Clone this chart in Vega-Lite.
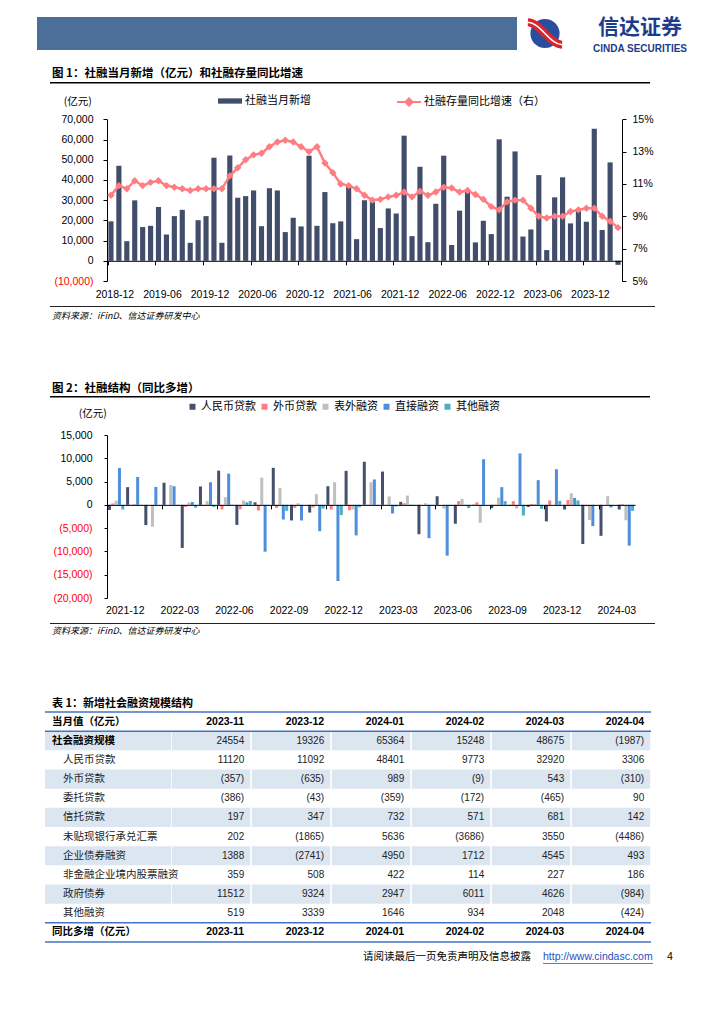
{
"$schema": "https://vega.github.io/schema/vega-lite/v6.json",
"padding": 0,
"background": "#FFFFFF",
"columns": 1,
"align": "each",
"bounds": "full",
"spacing": 0,
"resolve": {"scale": {"color": "independent"}, "legend": {"color": "independent"}},
"datasets": {
"c1": [
{"m":"2018-12","v":19500,"g":10.3},{"m":"2019-01","v":47000,"g":10.9},{"m":"2019-02","v":9700,"g":10.7},{"m":"2019-03","v":29900,"g":11.2},{"m":"2019-04","v":16700,"g":10.9},{"m":"2019-05","v":17300,"g":11.1},{"m":"2019-06","v":26600,"g":11.2},{"m":"2019-07","v":13000,"g":10.9},{"m":"2019-08","v":22100,"g":10.8},{"m":"2019-09","v":25200,"g":10.7},{"m":"2019-10","v":8900,"g":10.6},{"m":"2019-11","v":20100,"g":10.7},{"m":"2019-12","v":22100,"g":10.7},
{"m":"2020-01","v":51000,"g":10.7},{"m":"2020-02","v":8900,"g":10.7},{"m":"2020-03","v":52100,"g":11.5},{"m":"2020-04","v":31200,"g":12.0},{"m":"2020-05","v":32000,"g":12.5},{"m":"2020-06","v":34800,"g":12.8},{"m":"2020-07","v":17100,"g":12.9},{"m":"2020-08","v":35900,"g":13.3},{"m":"2020-09","v":34800,"g":13.6},{"m":"2020-10","v":14200,"g":13.7},{"m":"2020-11","v":21300,"g":13.6},{"m":"2020-12","v":17000,"g":13.3},
{"m":"2021-01","v":52000,"g":13.0},{"m":"2021-02","v":17300,"g":13.3},{"m":"2021-03","v":34000,"g":12.3},{"m":"2021-04","v":18600,"g":11.7},{"m":"2021-05","v":19500,"g":11.0},{"m":"2021-06","v":37000,"g":10.9},{"m":"2021-07","v":10700,"g":10.7},{"m":"2021-08","v":29900,"g":10.3},{"m":"2021-09","v":29000,"g":10.0},{"m":"2021-10","v":16200,"g":10.05},{"m":"2021-11","v":25900,"g":10.2},{"m":"2021-12","v":23400,"g":10.3},
{"m":"2022-01","v":61900,"g":10.5},{"m":"2022-02","v":12200,"g":10.2},{"m":"2022-03","v":46500,"g":10.55},{"m":"2022-04","v":9200,"g":10.3},{"m":"2022-05","v":28200,"g":10.5},{"m":"2022-06","v":52000,"g":10.8},{"m":"2022-07","v":7800,"g":10.75},{"m":"2022-08","v":24800,"g":10.5},{"m":"2022-09","v":34900,"g":10.6},{"m":"2022-10","v":9100,"g":10.35},{"m":"2022-11","v":19800,"g":10.05},{"m":"2022-12","v":13200,"g":9.6},
{"m":"2023-01","v":60100,"g":9.4},{"m":"2023-02","v":31700,"g":9.9},{"m":"2023-03","v":54100,"g":10.0},{"m":"2023-04","v":12000,"g":10.0},{"m":"2023-05","v":15500,"g":9.5},{"m":"2023-06","v":42400,"g":9.0},{"m":"2023-07","v":5300,"g":8.9},{"m":"2023-08","v":31400,"g":9.0},{"m":"2023-09","v":41300,"g":9.0},{"m":"2023-10","v":18500,"g":9.3},{"m":"2023-11","v":24554,"g":9.4},{"m":"2023-12","v":19326,"g":9.5},
{"m":"2024-01","v":65364,"g":9.5},{"m":"2024-02","v":15248,"g":9.0},{"m":"2024-03","v":48675,"g":8.7},{"m":"2024-04","v":-1987,"g":8.3}
],
"c2": [
{"m":"2021-12","k":"人民币贷款","v":-1100},{"m":"2021-12","k":"外币贷款","v":300},{"m":"2021-12","k":"表外融资","v":900},{"m":"2021-12","k":"直接融资","v":7900},{"m":"2021-12","k":"其他融资","v":-1000},
{"m":"2022-01","k":"人民币贷款","v":3800},{"m":"2022-01","k":"外币贷款","v":50},{"m":"2022-01","k":"表外融资","v":200},{"m":"2022-01","k":"直接融资","v":6000},{"m":"2022-01","k":"其他融资","v":-50},
{"m":"2022-02","k":"人民币贷款","v":-4350},{"m":"2022-02","k":"外币贷款","v":0},{"m":"2022-02","k":"表外融资","v":-4700},{"m":"2022-02","k":"直接融资","v":3850},{"m":"2022-02","k":"其他融资","v":0},
{"m":"2022-03","k":"人民币贷款","v":4750},{"m":"2022-03","k":"外币贷款","v":0},{"m":"2022-03","k":"表外融资","v":4250},{"m":"2022-03","k":"直接融资","v":4000},{"m":"2022-03","k":"其他融资","v":-200},
{"m":"2022-04","k":"人民币贷款","v":-9250},{"m":"2022-04","k":"外币贷款","v":-450},{"m":"2022-04","k":"表外融资","v":500},{"m":"2022-04","k":"直接融资","v":600},{"m":"2022-04","k":"其他融资","v":-600},
{"m":"2022-05","k":"人民币贷款","v":3950},{"m":"2022-05","k":"外币贷款","v":-200},{"m":"2022-05","k":"表外融资","v":800},{"m":"2022-05","k":"直接融资","v":4850},{"m":"2022-05","k":"其他融资","v":-450},
{"m":"2022-06","k":"人民币贷款","v":7350},{"m":"2022-06","k":"外币贷款","v":-1000},{"m":"2022-06","k":"表外融资","v":1650},{"m":"2022-06","k":"直接融资","v":6700},{"m":"2022-06","k":"其他融资","v":50},
{"m":"2022-07","k":"人民币贷款","v":-4300},{"m":"2022-07","k":"外币贷款","v":-950},{"m":"2022-07","k":"表外融资","v":950},{"m":"2022-07","k":"直接融资","v":550},{"m":"2022-07","k":"其他融资","v":850},
{"m":"2022-08","k":"人民币贷款","v":550},{"m":"2022-08","k":"外币贷款","v":-1200},{"m":"2022-08","k":"表外融资","v":5850},{"m":"2022-08","k":"直接融资","v":-10050},{"m":"2022-08","k":"其他融资","v":-200},
{"m":"2022-09","k":"人民币贷款","v":7950},{"m":"2022-09","k":"外币贷款","v":-650},{"m":"2022-09","k":"表外融资","v":3650},{"m":"2022-09","k":"直接融资","v":-3150},{"m":"2022-09","k":"其他融资","v":-1300},
{"m":"2022-10","k":"人民币贷款","v":-3350},{"m":"2022-10","k":"外币贷款","v":-650},{"m":"2022-10","k":"表外融资","v":350},{"m":"2022-10","k":"直接融资","v":-3350},{"m":"2022-10","k":"其他融资","v":0},
{"m":"2022-11","k":"人民币贷款","v":-1650},{"m":"2022-11","k":"外币贷款","v":-550},{"m":"2022-11","k":"表外融资","v":2300},{"m":"2022-11","k":"直接融资","v":-5650},{"m":"2022-11","k":"其他融资","v":-800},
{"m":"2022-12","k":"人民币贷款","v":4000},{"m":"2022-12","k":"外币贷款","v":-1000},{"m":"2022-12","k":"表外融资","v":4850},{"m":"2022-12","k":"直接融资","v":-16350},{"m":"2022-12","k":"其他融资","v":-2200},
{"m":"2023-01","k":"人民币贷款","v":7300},{"m":"2023-01","k":"外币贷款","v":-1150},{"m":"2023-01","k":"表外融资","v":-1000},{"m":"2023-01","k":"直接融资","v":-6550},{"m":"2023-01","k":"其他融资","v":-500},
{"m":"2023-02","k":"人民币贷款","v":9250},{"m":"2023-02","k":"外币贷款","v":50},{"m":"2023-02","k":"表外融资","v":4850},{"m":"2023-02","k":"直接融资","v":5450},{"m":"2023-02","k":"其他融资","v":-200},
{"m":"2023-03","k":"人民币贷款","v":7150},{"m":"2023-03","k":"外币贷款","v":50},{"m":"2023-03","k":"表外融资","v":1800},{"m":"2023-03","k":"直接融资","v":-1850},{"m":"2023-03","k":"其他融资","v":-350},
{"m":"2023-04","k":"人民币贷款","v":650},{"m":"2023-04","k":"外币贷款","v":350},{"m":"2023-04","k":"表外融资","v":2000},{"m":"2023-04","k":"直接融资","v":-200},{"m":"2023-04","k":"其他融资","v":-200},
{"m":"2023-05","k":"人民币贷款","v":-6300},{"m":"2023-05","k":"外币贷款","v":0},{"m":"2023-05","k":"表外融资","v":350},{"m":"2023-05","k":"直接融资","v":-7150},{"m":"2023-05","k":"其他融资","v":-100},
{"m":"2023-06","k":"人民币贷款","v":1850},{"m":"2023-06","k":"外币贷款","v":0},{"m":"2023-06","k":"表外融资","v":-800},{"m":"2023-06","k":"直接融资","v":-10900},{"m":"2023-06","k":"其他融资","v":-200},
{"m":"2023-07","k":"人民币贷款","v":-4050},{"m":"2023-07","k":"外币贷款","v":800},{"m":"2023-07","k":"表外融资","v":1300},{"m":"2023-07","k":"直接融资","v":-150},{"m":"2023-07","k":"其他融资","v":-700},
{"m":"2023-08","k":"人民币贷款","v":50},{"m":"2023-08","k":"外币贷款","v":550},{"m":"2023-08","k":"表外融资","v":-3850},{"m":"2023-08","k":"直接融资","v":9800},{"m":"2023-08","k":"其他融资","v":0},
{"m":"2023-09","k":"人民币贷款","v":-700},{"m":"2023-09","k":"外币贷款","v":50},{"m":"2023-09","k":"表外融资","v":1550},{"m":"2023-09","k":"直接融资","v":3800},{"m":"2023-09","k":"其他融资","v":800},
{"m":"2023-10","k":"人民币贷款","v":-150},{"m":"2023-10","k":"外币贷款","v":800},{"m":"2023-10","k":"表外融资","v":-800},{"m":"2023-10","k":"直接融资","v":11050},{"m":"2023-10","k":"其他融资","v":-2300},
{"m":"2023-11","k":"人民币贷款","v":-450},{"m":"2023-11","k":"外币贷款","v":200},{"m":"2023-11","k":"表外融资","v":200},{"m":"2023-11","k":"直接融资","v":5300},{"m":"2023-11","k":"其他融资","v":-850},
{"m":"2023-12","k":"人民币贷款","v":-3550},{"m":"2023-12","k":"外币贷款","v":950},{"m":"2023-12","k":"表外融资","v":0},{"m":"2023-12","k":"直接融资","v":7650},{"m":"2023-12","k":"其他融资","v":850},
{"m":"2024-01","k":"人民币贷款","v":-1000},{"m":"2024-01","k":"外币贷款","v":1050},{"m":"2024-01","k":"表外融资","v":2500},{"m":"2024-01","k":"直接融资","v":1500},{"m":"2024-01","k":"其他融资","v":950},
{"m":"2024-02","k":"人民币贷款","v":-8400},{"m":"2024-02","k":"外币贷款","v":-300},{"m":"2024-02","k":"表外融资","v":-3250},{"m":"2024-02","k":"直接融资","v":-4550},{"m":"2024-02","k":"其他融资","v":0},
{"m":"2024-03","k":"人民币贷款","v":-6650},{"m":"2024-03","k":"外币贷款","v":0},{"m":"2024-03","k":"表外融资","v":1850},{"m":"2024-03","k":"直接融资","v":-550},{"m":"2024-03","k":"其他融资","v":0},
{"m":"2024-04","k":"人民币贷款","v":-1000},{"m":"2024-04","k":"外币贷款","v":150},{"m":"2024-04","k":"表外融资","v":-3300},{"m":"2024-04","k":"直接融资","v":-8750},{"m":"2024-04","k":"其他融资","v":-1300}
],
"rows": [
{"item":"当月值（亿元）","lv":"head"},{"item":"社会融资规模","lv":"total"},{"item":"人民币贷款","lv":"sub"},{"item":"外币贷款","lv":"sub"},{"item":"委托贷款","lv":"sub"},{"item":"信托贷款","lv":"sub"},{"item":"未贴现银行承兑汇票","lv":"sub"},{"item":"企业债券融资","lv":"sub"},{"item":"非金融企业境内股票融资","lv":"sub"},{"item":"政府债券","lv":"sub"},{"item":"其他融资","lv":"sub"},{"item":"同比多增（亿元）","lv":"head"}
],
"cells": [
{"item":"社会融资规模","mo":"2023-11","v":24554},{"item":"社会融资规模","mo":"2023-12","v":19326},{"item":"社会融资规模","mo":"2024-01","v":65364},{"item":"社会融资规模","mo":"2024-02","v":15248},{"item":"社会融资规模","mo":"2024-03","v":48675},{"item":"社会融资规模","mo":"2024-04","v":-1987},
{"item":"人民币贷款","mo":"2023-11","v":11120},{"item":"人民币贷款","mo":"2023-12","v":11092},{"item":"人民币贷款","mo":"2024-01","v":48401},{"item":"人民币贷款","mo":"2024-02","v":9773},{"item":"人民币贷款","mo":"2024-03","v":32920},{"item":"人民币贷款","mo":"2024-04","v":3306},
{"item":"外币贷款","mo":"2023-11","v":-357},{"item":"外币贷款","mo":"2023-12","v":-635},{"item":"外币贷款","mo":"2024-01","v":989},{"item":"外币贷款","mo":"2024-02","v":-9},{"item":"外币贷款","mo":"2024-03","v":543},{"item":"外币贷款","mo":"2024-04","v":-310},
{"item":"委托贷款","mo":"2023-11","v":-386},{"item":"委托贷款","mo":"2023-12","v":-43},{"item":"委托贷款","mo":"2024-01","v":-359},{"item":"委托贷款","mo":"2024-02","v":-172},{"item":"委托贷款","mo":"2024-03","v":-465},{"item":"委托贷款","mo":"2024-04","v":90},
{"item":"信托贷款","mo":"2023-11","v":197},{"item":"信托贷款","mo":"2023-12","v":347},{"item":"信托贷款","mo":"2024-01","v":732},{"item":"信托贷款","mo":"2024-02","v":571},{"item":"信托贷款","mo":"2024-03","v":681},{"item":"信托贷款","mo":"2024-04","v":142},
{"item":"未贴现银行承兑汇票","mo":"2023-11","v":202},{"item":"未贴现银行承兑汇票","mo":"2023-12","v":-1865},{"item":"未贴现银行承兑汇票","mo":"2024-01","v":5636},{"item":"未贴现银行承兑汇票","mo":"2024-02","v":-3686},{"item":"未贴现银行承兑汇票","mo":"2024-03","v":3550},{"item":"未贴现银行承兑汇票","mo":"2024-04","v":-4486},
{"item":"企业债券融资","mo":"2023-11","v":1388},{"item":"企业债券融资","mo":"2023-12","v":-2741},{"item":"企业债券融资","mo":"2024-01","v":4950},{"item":"企业债券融资","mo":"2024-02","v":1712},{"item":"企业债券融资","mo":"2024-03","v":4545},{"item":"企业债券融资","mo":"2024-04","v":493},
{"item":"非金融企业境内股票融资","mo":"2023-11","v":359},{"item":"非金融企业境内股票融资","mo":"2023-12","v":508},{"item":"非金融企业境内股票融资","mo":"2024-01","v":422},{"item":"非金融企业境内股票融资","mo":"2024-02","v":114},{"item":"非金融企业境内股票融资","mo":"2024-03","v":227},{"item":"非金融企业境内股票融资","mo":"2024-04","v":186},
{"item":"政府债券","mo":"2023-11","v":11512},{"item":"政府债券","mo":"2023-12","v":9324},{"item":"政府债券","mo":"2024-01","v":2947},{"item":"政府债券","mo":"2024-02","v":6011},{"item":"政府债券","mo":"2024-03","v":4626},{"item":"政府债券","mo":"2024-04","v":-984},
{"item":"其他融资","mo":"2023-11","v":519},{"item":"其他融资","mo":"2023-12","v":3339},{"item":"其他融资","mo":"2024-01","v":1646},{"item":"其他融资","mo":"2024-02","v":934},{"item":"其他融资","mo":"2024-03","v":2048},{"item":"其他融资","mo":"2024-04","v":-424}
]
},
"concat": [
{"width":1,"height":6,"data":{"values":[]},"mark":"point","encoding":{}},

{"spacing":0,"bounds":"flush","hconcat":[
 {"width":37,"height":65,"data":{"values":[]},"mark":"point","encoding":{}},
 {"width":480,"height":33,"view":{"fill":"#4B6F98","stroke":null},"data":{"values":[]},"mark":"point","encoding":{},
  "title":{"text":"图 1：社融当月新增（亿元）和社融存量同比增速","orient":"bottom","anchor":"start","offset":18,"dx":15,"fontSize":11.5,"fontWeight":"bold","font":"Noto Sans CJK SC","color":"#000000"}},
 {"width":10,"height":1,"data":{"values":[]},"mark":"point","encoding":{}},
 {"width":36,"height":33,"data":{"values":[{"brand":"信达证券"}]},"layer":[
   {"mark":{"type":"point","shape":"circle","size":850,"filled":true,"color":"#2A4E9E","opacity":1},"encoding":{}},
   {"mark":{"type":"point","shape":"M-0.95,-0.62C-0.25,-0.6 0.25,0.6 0.95,0.62","size":1296,"filled":false,"color":"#D9262C","strokeWidth":8,"opacity":1},"encoding":{}},
   {"mark":{"type":"point","shape":"M-0.95,-0.62C-0.25,-0.6 0.25,0.6 0.95,0.62","size":1296,"filled":false,"color":"#FFFFFF","strokeWidth":1.5,"opacity":1},"encoding":{}}
 ]},
 {"width":22,"height":1,"data":{"values":[]},"mark":"point","encoding":{}},
 {"width":110,"height":33,"layer":[
   {"data":{"values":[{"t":"信达证券"}]},"mark":{"type":"text","font":"Noto Sans CJK SC","fontSize":21,"fontWeight":"bold","color":"#1E3C8C","dy":-5.5},"encoding":{"text":{"field":"t"}}},
   {"data":{"values":[{"t":"CINDA SECURITIES"}]},"mark":{"type":"text","font":"Liberation Sans","fontSize":10,"fontWeight":"bold","color":"#1E3C8C","dy":15.5},"encoding":{"text":{"field":"t"}}}
 ]}
]},

{"spacing":0,"bounds":"flush","hconcat":[
 {"width":50,"height":2,"data":{"values":[]},"mark":"point","encoding":{}},
 {"width":600,"height":1.5,"view":{"fill":"#000000","stroke":null},"data":{"values":[]},"mark":"point","encoding":{}}
]},

{"spacing":0,"bounds":"flush","resolve":{"scale":{"color":"independent"},"legend":{"color":"independent"}},"hconcat":[
 {"width":107,"height":222,"data":{"values":[]},"mark":"point","encoding":{}},
 {"width":515,"height":197,"data":{"name":"c1"},
  "layer":[
   {"mark":{"type":"bar"},
    "encoding":{
     "x":{"field":"m","type":"ordinal","sort":null,"scale":{"paddingInner":0.35,"paddingOuter":0.175},
       "axis":{"title":null,"values":["2018-12","2019-06","2019-12","2020-06","2020-12","2021-06","2021-12","2022-06","2022-12","2023-06","2023-12"],"bandPosition":0,"labelOffset":3.96,"offset":-20.21,"tickSize":4,"labelPadding":24.4,"labelAngle":0,"labelFontSize":10.5,"labelOverlap":false,"zindex":1}},
     "y":{"field":"v","type":"quantitative","scale":{"domain":[-10000,70000],"range":[197,35.3],"nice":false,"zero":false},
       "axis":{"values":[-10000,0,10000,20000,30000,40000,50000,60000,70000],"labelExpr":"datum.value < 0 ? '(' + format(-datum.value, ',') + ')' : format(datum.value, ',')","labelColor":{"condition":{"test":"datum.value < 0","value":"#FF0000"},"value":"#000000"},"tickSize":4,"labelPadding":10,"labelFontSize":10.5,"title":"(亿元)","titleAngle":0,"titleX":-43.7,"titleY":17.5,"titleAlign":"left","titleBaseline":"middle","titleFont":"Noto Sans CJK SC","titleFontSize":10.5,"titleFontWeight":"normal","titleColor":"#000000"}},
     "color":{"datum":"社融当月新增","scale":{"range":["#424D6B"]},
       "legend":{"orient":"none","legendX":111,"legendY":5,"title":null,"symbolType":"M-1,-0.22L1,-0.22L1,0.22L-1,0.22Z","symbolSize":576,"symbolStrokeWidth":0,"labelFontSize":11,"labelOffset":3,"labelFont":"Noto Sans CJK SC","labelColor":"#000000"}}
    }},
   {"mark":{"type":"line","strokeWidth":2.5,"point":{"shape":"diamond","size":55,"filled":true,"opacity":1}},
    "encoding":{
     "x":{"field":"m","type":"ordinal","sort":null},
     "y":{"field":"g","type":"quantitative","scale":{"domain":[5,15],"range":[197,35.3],"nice":false,"zero":false},
       "axis":{"orient":"right","values":[5,7,9,11,13,15],"labelExpr":"datum.value + '%'","tickSize":4,"labelPadding":6,"labelFontSize":10.5,"title":null}},
     "color":{"datum":"社融存量同比增速（右）","scale":{"range":["#FF7C80"]},
       "legend":{"orient":"none","legendX":289,"legendY":5,"title":null,"symbolType":"M-1,0L1,0M0,-0.3L0.3,0L0,0.3L-0.3,0Z","symbolSize":576,"symbolStrokeWidth":2,"symbolFillColor":"#FF7C80","symbolStrokeColor":"#FF7C80","labelFontSize":11,"labelOffset":2,"labelFont":"Noto Sans CJK SC","labelColor":"#000000"}}
    }}
  ],
  "resolve":{"scale":{"y":"independent","color":"independent"},"axis":{"y":"independent"},"legend":{"color":"independent"}}
 }
]},

{"spacing":0,"bounds":"flush","hconcat":[
 {"width":50,"height":90,"data":{"values":[]},"mark":"point","encoding":{}},
 {"width":605,"height":1,"view":{"fill":"#222222","stroke":null},"data":{"values":[]},"mark":"point","encoding":{},
  "title":{"text":"资料来源：iFinD、信达证券研发中心","subtitle":"图 2：社融结构（同比多增）","orient":"bottom","anchor":"start","offset":4.5,"dx":2,"fontSize":9,"fontStyle":"italic","fontWeight":"normal","font":"Noto Sans CJK SC","color":"#000000","subtitleFont":"Noto Sans CJK SC","subtitleFontSize":11.5,"subtitleFontWeight":"bold","subtitleColor":"#000000","subtitlePadding":62.5}}
]},

{"spacing":0,"bounds":"flush","hconcat":[
 {"width":50,"height":2,"data":{"values":[]},"mark":"point","encoding":{}},
 {"width":600,"height":1.5,"view":{"fill":"#000000","stroke":null},"data":{"values":[]},"mark":"point","encoding":{}}
]},

{"spacing":0,"bounds":"flush","resolve":{"scale":{"color":"independent"},"legend":{"color":"independent"}},"hconcat":[
 {"width":107,"height":225,"data":{"values":[]},"mark":"point","encoding":{}},
 {"width":528,"height":200,"data":{"name":"c2"},
  "mark":{"type":"bar"},
  "encoding":{
   "x":{"field":"m","type":"ordinal","sort":null,"scale":{"paddingInner":0.1,"paddingOuter":0.05},
     "axis":{"title":null,"values":["2021-12","2022-03","2022-06","2022-09","2022-12","2023-03","2023-06","2023-09","2023-12","2024-03"],"bandPosition":0,"labelOffset":9.1,"offset":-93.14,"tickSize":4,"labelPadding":96.5,"labelAngle":0,"labelFontSize":10.5,"labelOverlap":false,"zindex":1}},
   "xOffset":{"field":"k","type":"nominal","sort":["人民币贷款","外币贷款","表外融资","直接融资","其他融资"],"scale":{"paddingInner":0.1}},
   "y":{"field":"v","type":"quantitative","scale":{"domain":[-20000,15000],"range":[200,37],"nice":false,"zero":false},
     "axis":{"values":[-20000,-15000,-10000,-5000,0,5000,10000,15000],"labelExpr":"datum.value < 0 ? '(' + format(-datum.value, ',') + ')' : format(datum.value, ',')","labelColor":{"condition":{"test":"datum.value < 0","value":"#FF0000"},"value":"#000000"},"tickSize":3,"labelPadding":12,"labelFontSize":10.5,"title":"(亿元)","titleAngle":0,"titleX":-28.7,"titleY":15.5,"titleAlign":"left","titleBaseline":"middle","titleFont":"Noto Sans CJK SC","titleFontSize":10.5,"titleFontWeight":"normal","titleColor":"#000000"}},
   "color":{"field":"k","type":"nominal","scale":{"domain":["人民币贷款","外币贷款","表外融资","直接融资","其他融资"],"range":["#44506C","#FF7C80","#BFBFBF","#4E8EDB","#4BADC6"]},
     "legend":{"orient":"none","legendX":80,"legendY":3,"direction":"horizontal","title":null,"symbolType":"square","symbolSize":36,"symbolStrokeWidth":0,"labelFontSize":11,"labelOffset":3,"columnPadding":3,"labelFont":"Noto Sans CJK SC","labelColor":"#000000"}}
  }
 }
]},

{"spacing":0,"bounds":"flush","hconcat":[
 {"width":50,"height":88,"data":{"values":[]},"mark":"point","encoding":{}},
 {"width":605,"height":1,"view":{"fill":"#222222","stroke":null},"data":{"values":[]},"mark":"point","encoding":{},
  "title":{"text":"资料来源：iFinD、信达证券研发中心","subtitle":"表 1：新增社会融资规模结构","orient":"bottom","anchor":"start","offset":3,"dx":2,"fontSize":9,"fontStyle":"italic","fontWeight":"normal","font":"Noto Sans CJK SC","color":"#000000","subtitleFont":"Noto Sans CJK SC","subtitleFontSize":11,"subtitleFontWeight":"bold","subtitleColor":"#000000","subtitlePadding":62}}
]},

{"spacing":0,"bounds":"flush","hconcat":[
 {"width":45,"height":239,"data":{"values":[]},"mark":"point","encoding":{}},
 {"width":126,"height":230,"data":{"name":"rows"},
  "layer":[
   {"mark":{"type":"rect"},"encoding":{
     "y":{"field":"item","type":"nominal","sort":null,"scale":{"domain":["当月值（亿元）","社会融资规模","人民币贷款","外币贷款","委托贷款","信托贷款","未贴现银行承兑汇票","企业债券融资","非金融企业境内股票融资","政府债券","其他融资","同比多增（亿元）"],"paddingInner":0,"paddingOuter":0},"axis":null},
     "color":{"condition":{"test":"indexof(['社会融资规模','外币贷款','信托贷款','企业债券融资','政府债券'], datum.item) >= 0","value":"#DCE6F1"},"value":"transparent"}}},
   {"transform":[{"filter":"datum.lv != 'sub'"}],"mark":{"type":"text","align":"left","dx":-56,"fontWeight":"bold","fontSize":10.5,"font":"Noto Sans CJK SC","color":"#000000"},
    "encoding":{"y":{"field":"item","type":"nominal","sort":null},"text":{"field":"item"}}},
   {"transform":[{"filter":"datum.lv == 'sub'"}],"mark":{"type":"text","align":"left","dx":-45,"fontSize":10.5,"font":"Noto Sans CJK SC","color":"#222222"},
    "encoding":{"y":{"field":"item","type":"nominal","sort":null},"text":{"field":"item"}}},
   {"transform":[{"filter":"datum.lv == 'head'"}],"mark":{"type":"rule","color":"#4472C4","strokeWidth":1.5},
    "encoding":{"y":{"field":"item","type":"nominal","sort":null,"bandPosition":0}}},
   {"transform":[{"filter":"datum.lv == 'head'"}],"mark":{"type":"rule","color":"#4472C4","strokeWidth":1.5},
    "encoding":{"y":{"field":"item","type":"nominal","sort":null,"bandPosition":1}}}
  ]},
 {"width":480,"height":230,
  "layer":[
   {"data":{"name":"cells"},"mark":{"type":"rect"},"encoding":{
     "x":{"field":"mo","type":"ordinal","sort":null,"scale":{"domain":["2023-11","2023-12","2024-01","2024-02","2024-03","2024-04"],"paddingInner":0.02,"paddingOuter":0.01},"axis":null},
     "y":{"field":"item","type":"nominal","sort":null,"scale":{"domain":["当月值（亿元）","社会融资规模","人民币贷款","外币贷款","委托贷款","信托贷款","未贴现银行承兑汇票","企业债券融资","非金融企业境内股票融资","政府债券","其他融资","同比多增（亿元）"],"paddingInner":0,"paddingOuter":0},"axis":null},
     "color":{"condition":{"test":"indexof(['社会融资规模','外币贷款','信托贷款','企业债券融资','政府债券'], datum.item) >= 0","value":"#DCE6F1"},"value":"transparent"}}},
   {"data":{"name":"cells"},"mark":{"type":"text","align":"right","dx":-6,"font":"Liberation Sans","fontSize":10,"color":"#222222"},"encoding":{
     "x":{"field":"mo","type":"ordinal","sort":null,"bandPosition":1},
     "y":{"field":"item","type":"nominal","sort":null},
     "text":{"field":"v","type":"quantitative","format":"(d"}}},
   {"data":{"name":"cells"},"transform":[{"filter":"datum.item == '社会融资规模'"}],"mark":{"type":"text","align":"right","dx":-6,"font":"Liberation Sans","fontSize":10.5,"fontWeight":"bold","color":"#000000"},"encoding":{
     "x":{"field":"mo","type":"ordinal","sort":null,"bandPosition":1},
     "y":{"datum":"当月值（亿元）","type":"nominal"},
     "text":{"field":"mo"}}},
   {"data":{"name":"cells"},"transform":[{"filter":"datum.item == '社会融资规模'"}],"mark":{"type":"text","align":"right","dx":-6,"font":"Liberation Sans","fontSize":10.5,"fontWeight":"bold","color":"#000000"},"encoding":{
     "x":{"field":"mo","type":"ordinal","sort":null,"bandPosition":1},
     "y":{"datum":"同比多增（亿元）","type":"nominal"},
     "text":{"field":"mo"}}},
   {"data":{"name":"rows"},"transform":[{"filter":"datum.lv == 'head'"}],"mark":{"type":"rule","color":"#4472C4","strokeWidth":1.5},
    "encoding":{"y":{"field":"item","type":"nominal","sort":null,"bandPosition":0}}},
   {"data":{"name":"rows"},"transform":[{"filter":"datum.lv == 'head'"}],"mark":{"type":"rule","color":"#4472C4","strokeWidth":1.5},
    "encoding":{"y":{"field":"item","type":"nominal","sort":null,"bandPosition":1}}}
  ]}
]},

{"spacing":0,"bounds":"flush","hconcat":[
 {"width":363,"height":1,"data":{"values":[]},"mark":"point","encoding":{}},
 {"width":180,"height":1,"data":{"values":[]},"mark":"point","encoding":{},
  "title":{"text":"请阅读最后一页免责声明及信息披露","orient":"bottom","anchor":"start","offset":0,"fontSize":10.5,"fontWeight":"normal","font":"Noto Sans CJK SC","color":"#000000"}},
 {"width":124,"height":1,"data":{"values":[]},"mark":"point","encoding":{},
  "title":{"text":"http://www.cindasc.com","orient":"bottom","anchor":"start","offset":0,"fontSize":10.5,"fontWeight":"normal","font":"Liberation Sans","color":"#1F4FC0"}},
 {"width":10,"height":1,"data":{"values":[]},"mark":"point","encoding":{},
  "title":{"text":"4","orient":"bottom","anchor":"start","offset":0,"fontSize":10.5,"fontWeight":"normal","font":"Liberation Sans","color":"#000000"}}
]},

{"spacing":0,"bounds":"flush","hconcat":[
 {"width":543,"height":1,"data":{"values":[]},"mark":"point","encoding":{}},
 {"width":110,"height":0.8,"view":{"fill":"#1F4FC0","stroke":null},"data":{"values":[]},"mark":"point","encoding":{}}
]}
],
"config":{
 "view":{"stroke":null},
 "axis":{"labelFont":"Liberation Sans","labelColor":"#000000","domainColor":"#000000","tickColor":"#000000","grid":false,"domainWidth":1,"tickWidth":1},
 "legend":{"labelFont":"Noto Sans CJK SC"},
 "title":{"font":"Noto Sans CJK SC","color":"#000000"}
}
}
